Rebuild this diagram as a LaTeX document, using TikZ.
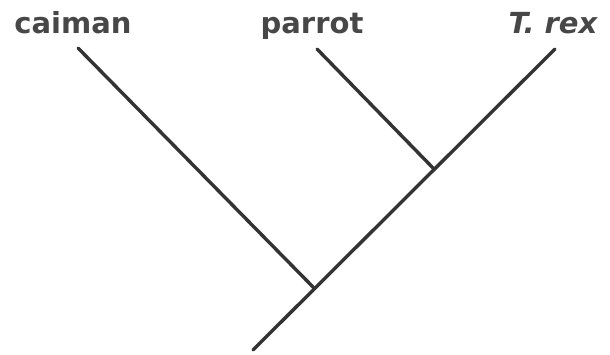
\documentclass[tikz,border=0pt]{standalone}
\usepackage{fontspec}
\setmainfont{DejaVu Sans}
\begin{document}
\begin{tikzpicture}[x=1pt,y=-1pt,
  branch/.style={draw=black!80, line width=3.4pt, line cap=round},
  taxon/.style={text=black!72, font=\fontsize{29}{34}\selectfont\bfseries, inner sep=0pt, anchor=base}]
\useasboundingbox (0,0) rectangle (610,355);
\coordinate (root) at (253,350);
\coordinate (j1) at (314,288);
\coordinate (j2) at (433,168);
\coordinate (tc) at (78,48);
\coordinate (tp) at (317,49);
\coordinate (tt) at (555,49);
\node[taxon] (caiman) at (73,34) {caiman};
\node[taxon] (parrot) at (312,34) {parrot};
\node[taxon] (trex) at (553,34) {\itshape T. rex};
\draw[branch] (root) -- (tt);
\draw[branch] (j1) -- (tc);
\draw[branch] (j2) -- (tp);
\end{tikzpicture}
\end{document}
